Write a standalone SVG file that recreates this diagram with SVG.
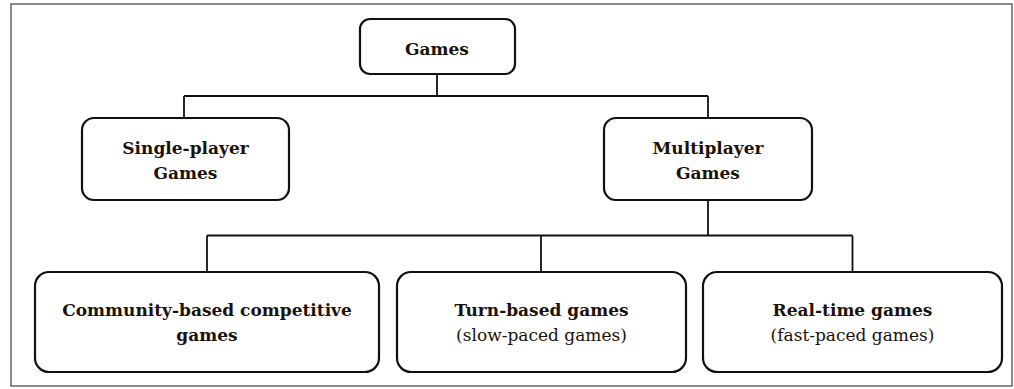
<svg xmlns="http://www.w3.org/2000/svg" width="1014" height="389" viewBox="0 0 1014 389">
  <style>
    .frame { fill: #ffffff; stroke: #6e6e6e; stroke-width: 1.6; }
    .box { fill: #ffffff; stroke: #111111; stroke-width: 2.2; }
    .link { fill: none; stroke: #111111; stroke-width: 1.8; }
    .t { font-family: "DejaVu Serif", "Liberation Serif", serif; font-size: 17px; fill: #1a1208; text-anchor: middle; }
    .b { font-weight: bold; }
  </style>
  <rect x="0" y="0" width="1014" height="389" fill="#ffffff"/>
  <rect class="frame" x="11" y="4" width="1001" height="382"/>

  <!-- tree connectors -->
  <g id="connectors">
    <path class="link" d="M437 74 V96 M184 96 H708 M184 96 V118 M708 96 V118"/>
    <path class="link" d="M708 200 V235.5 M207 235.5 H852.5 M207 235.5 V272 M541 235.5 V272 M852.5 235.5 V272"/>
  </g>

  <g id="games">
    <rect class="box" x="360" y="19" width="155" height="55" rx="10"/>
    <text class="t b" x="437" y="55">Games</text>
  </g>

  <g id="single-player">
    <rect class="box" x="82" y="118" width="207" height="82" rx="12"/>
    <text class="t b" x="185.5" y="154">Single-player</text>
    <text class="t b" x="185.5" y="179">Games</text>
  </g>

  <g id="multiplayer">
    <rect class="box" x="604" y="118" width="208" height="82" rx="12"/>
    <text class="t b" x="708" y="154">Multiplayer</text>
    <text class="t b" x="708" y="179">Games</text>
  </g>

  <g id="community">
    <rect class="box" x="35" y="272" width="344" height="100" rx="14"/>
    <text class="t b" x="207" y="316">Community-based competitive</text>
    <text class="t b" x="207" y="341">games</text>
  </g>

  <g id="turn-based">
    <rect class="box" x="397" y="272" width="289" height="100" rx="14"/>
    <text class="t b" x="541.5" y="316">Turn-based games</text>
    <text class="t" x="541.5" y="341">(slow-paced games)</text>
  </g>

  <g id="real-time">
    <rect class="box" x="703" y="272" width="299" height="100" rx="14"/>
    <text class="t b" x="852.5" y="316">Real-time games</text>
    <text class="t" x="852.5" y="341">(fast-paced games)</text>
  </g>
</svg>
